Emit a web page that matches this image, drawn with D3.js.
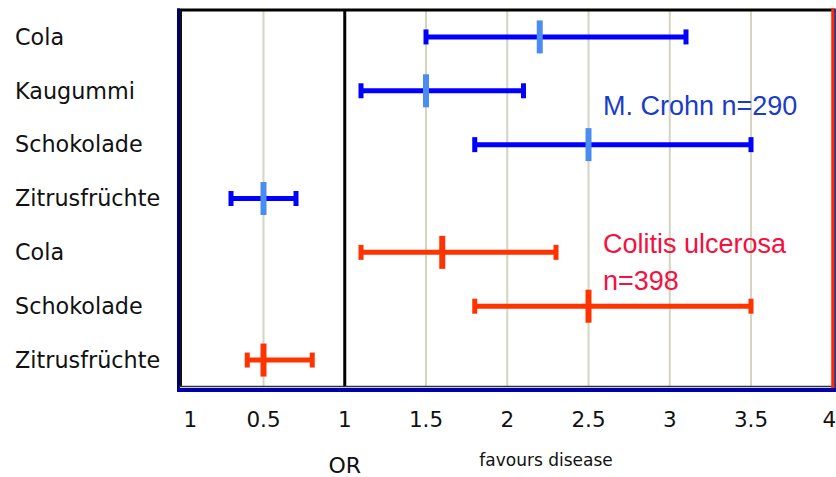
<!DOCTYPE html>
<html>
<head>
<meta charset="utf-8">
<script src="https://cdn.jsdelivr.net/npm/d3@7"></script>
<style>
  html, body { margin: 0; padding: 0; background: #ffffff; }
  svg { display: block; }
</style>
</head>
<body>
<script>
// ---- data ----
const categories = ["Cola", "Kaugummi", "Schokolade", "Zitrusfrüchte", "Cola", "Schokolade", "Zitrusfrüchte"];
const groups     = ["crohn", "crohn", "crohn", "crohn", "colitis", "colitis", "colitis"];
const estimates  = [2.2, 1.5, 2.5, 0.5, 1.6, 2.5, 0.5];
const lowerCI    = [1.5, 1.1, 1.8, 0.3, 1.1, 1.8, 0.4];
const upperCI    = [3.1, 2.1, 3.5, 0.7, 2.3, 3.5, 0.8];
const tickValues = [0, 0.5, 1, 1.5, 2, 2.5, 3, 3.5, 4];
const tickLabels = ["1", "0.5", "1", "1.5", "2", "2.5", "3", "3.5", "4"];
const gridValues = [0.5, 1.5, 2, 2.5, 3, 3.5];
const refValue   = 1;
const groupLabels = { crohn: ["M. Crohn n=290"], colitis: ["Colitis ulcerosa", "n=398"] };

const W = 836, H = 477;
const pLeft = 182.25, pRight = 832.25, pTop = 10, pBottom = 387;
const frameLeft = 179;

const rows = categories.map((c, i) => ({
  id: i, cat: c, group: groups[i], est: estimates[i], lo: lowerCI[i], hi: upperCI[i]
}));

const x = d3.scaleLinear().domain([0, 4]).range([pLeft, pRight]);
const y = d3.scaleBand().domain(rows.map(r => r.id)).range([pTop, pBottom]).padding(0);
const yc = id => y(id) + y.bandwidth() / 2;

const colors = {
  crohn:   { bar: "#0000ff", mark: "#4a8cf0", text: "#1a3cc8" },
  colitis: { bar: "#ff3300", mark: "#ff3300", text: "#f5103f" }
};

const svg = d3.select("body").append("svg").attr("width", W).attr("height", H);
svg.append("rect").attr("width", W).attr("height", H).attr("fill", "#ffffff");

// grid lines
svg.append("g").selectAll("line").data(gridValues).join("line")
  .attr("x1", d => x(d)).attr("x2", d => x(d))
  .attr("y1", pTop).attr("y2", pBottom)
  .attr("stroke", "#d4d4c0").attr("stroke-width", 2);

// reference line at 1
svg.append("line")
  .attr("x1", x(refValue)).attr("x2", x(refValue))
  .attr("y1", pTop).attr("y2", pBottom)
  .attr("stroke", "#000000").attr("stroke-width", 3);

// frame
svg.append("line").attr("x1", frameLeft - 2).attr("x2", pRight + 2).attr("y1", pTop).attr("y2", pTop)
  .attr("stroke", "#000000").attr("stroke-width", 3);
svg.append("line").attr("x1", frameLeft - 0.5).attr("x2", frameLeft - 0.5).attr("y1", pTop - 1.5).attr("y2", pBottom + 5)
  .attr("stroke", "#00006a").attr("stroke-width", 3);
svg.append("line").attr("x1", frameLeft + 2).attr("x2", frameLeft + 2).attr("y1", pTop).attr("y2", pBottom)
  .attr("stroke", "#111111").attr("stroke-width", 2);
svg.append("line").attr("x1", frameLeft).attr("x2", pRight).attr("y1", pBottom - 0.5).attr("y2", pBottom - 0.5)
  .attr("stroke", "#333333").attr("stroke-width", 1.5);
svg.append("line").attr("x1", frameLeft - 2).attr("x2", W).attr("y1", pBottom + 3).attr("y2", pBottom + 3)
  .attr("stroke", "#0000aa").attr("stroke-width", 4);
svg.append("line").attr("x1", pRight + 0.5).attr("x2", pRight + 0.5).attr("y1", pTop - 1.5).attr("y2", pBottom + 1)
  .attr("stroke", "#ff2a00").attr("stroke-width", 3);
svg.append("line").attr("x1", pRight + 2.8).attr("x2", pRight + 2.8).attr("y1", pTop - 1.5).attr("y2", pBottom + 1)
  .attr("stroke", "#000060").attr("stroke-width", 1.5);

// error bars
const g = svg.append("g");
g.selectAll("line.ci").data(rows).join("line").attr("class", "ci")
  .attr("x1", d => x(d.lo)).attr("x2", d => x(d.hi))
  .attr("y1", d => yc(d.id)).attr("y2", d => yc(d.id))
  .attr("stroke", d => colors[d.group].bar).attr("stroke-width", 5);
g.selectAll("rect.capL").data(rows).join("rect").attr("class", "capL")
  .attr("x", d => x(d.lo) - 2.5).attr("width", 5)
  .attr("y", d => yc(d.id) - 7.5).attr("height", 15)
  .attr("fill", d => colors[d.group].bar);
g.selectAll("rect.capR").data(rows).join("rect").attr("class", "capR")
  .attr("x", d => x(d.hi) - 2.5).attr("width", 5)
  .attr("y", d => yc(d.id) - 7.5).attr("height", 15)
  .attr("fill", d => colors[d.group].bar);
g.selectAll("rect.est").data(rows).join("rect").attr("class", "est")
  .attr("x", d => x(d.est) - 3).attr("width", 6)
  .attr("y", d => yc(d.id) - 16.5).attr("height", 33)
  .attr("fill", d => colors[d.group].mark);

// category labels
svg.append("g").selectAll("text").data(rows).join("text")
  .attr("x", 15).attr("y", d => yc(d.id))
  .attr("dy", "0.35em")
  .attr("font-family", "DejaVu Sans, sans-serif").attr("font-size", 22.3)
  .attr("fill", "#111111")
  .text(d => d.cat);

// tick labels
svg.append("g").selectAll("text").data(tickValues).join("text")
  .attr("x", (d, i) => x(d) + (i === 0 ? 8 : (i === tickValues.length - 1 ? -3 : 0)))
  .attr("y", 427)
  .attr("text-anchor", "middle")
  .attr("font-family", "DejaVu Sans, sans-serif").attr("font-size", 21.5)
  .attr("fill", "#111111")
  .text((d, i) => tickLabels[i]);

// axis titles
svg.append("text").attr("x", x(refValue)).attr("y", 473)
  .attr("text-anchor", "middle")
  .attr("font-family", "DejaVu Sans, sans-serif").attr("font-size", 22)
  .attr("fill", "#111111").text("OR");
svg.append("text").attr("x", 546).attr("y", 466)
  .attr("text-anchor", "middle")
  .attr("font-family", "DejaVu Sans, sans-serif").attr("font-size", 17)
  .attr("fill", "#111111").text("favours disease");

// group labels
const gl = [
  { group: "crohn", x: 603, y: 115 },
  { group: "colitis", x: 603, y: 253 }
];
gl.forEach(o => {
  const t = svg.append("text").attr("x", o.x).attr("y", o.y)
    .attr("font-family", "Liberation Sans, Arial, sans-serif").attr("font-size", 27)
    .attr("fill", colors[o.group].text);
  groupLabels[o.group].forEach((line, i) => {
    t.append("tspan").attr("x", o.x).attr("dy", i === 0 ? 0 : 37).text(line);
  });
});
</script>
</body>
</html>
